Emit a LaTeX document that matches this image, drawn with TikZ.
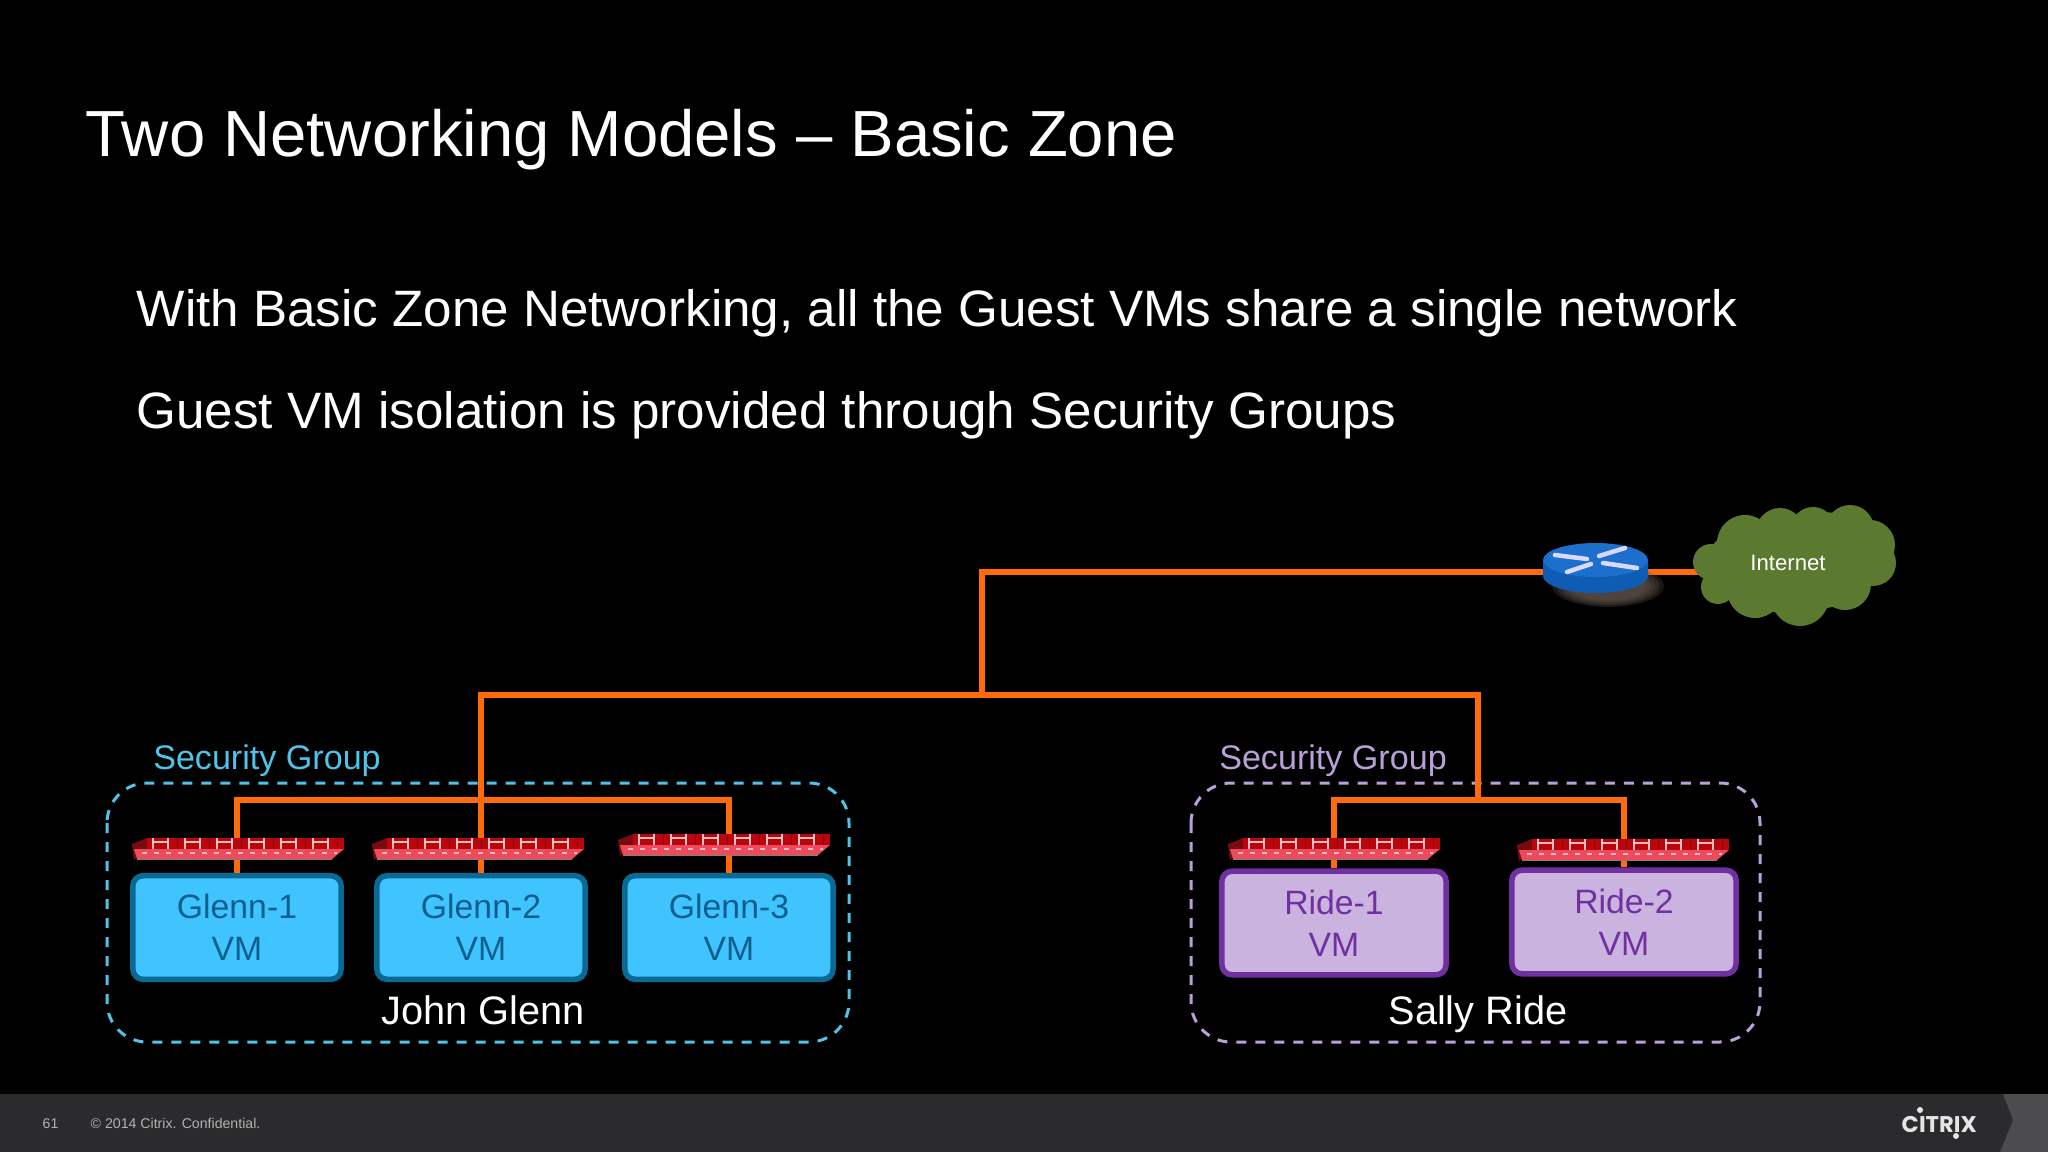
\documentclass[tikz,border=0pt]{standalone}
\usepackage{fontspec}
\setmainfont{Liberation Sans}
\newfontfamily\logofont{Poppins}
\definecolor{wirecol}{HTML}{FF6A0A}
\definecolor{glennfill}{HTML}{3FC4FF}
\definecolor{glennline}{HTML}{0B6A94}
\definecolor{glenntext}{HTML}{0F5F8C}
\definecolor{ridefill}{HTML}{CBB3E0}
\definecolor{rideline}{HTML}{7030A0}
\definecolor{glenndash}{HTML}{4FC3E8}
\definecolor{ridedash}{HTML}{B9A0D8}
\definecolor{cloudcol}{HTML}{5B7A30}
\definecolor{barcol}{HTML}{2B2B2D}
\definecolor{cornercol}{HTML}{4C4C4E}
\definecolor{fwtop}{HTML}{B8060C}
\definecolor{fwbrick}{HTML}{8E0408}
\definecolor{fwlow}{HTML}{EE4A5C}
\definecolor{fwside}{HTML}{7A0A0E}
\definecolor{fwmark}{HTML}{F0C0C0}
\definecolor{routertop}{HTML}{1C6FCC}
\definecolor{routerside}{HTML}{0F5CB4}
\definecolor{routershadow}{HTML}{6A5A52}
\tikzset{
  wire/.style={line width=0.6 mm, wirecol},
  glennvm/.style={draw=glennline, fill=glennfill, text=glenntext, line width=0.55 mm, rounded corners=1 mm,
    minimum width=2.08cm, minimum height=1.035cm, align=center, font=\fontsize{9.6}{11.9}\selectfont},
  ridevm/.style={draw=rideline, fill=ridefill, text=rideline, line width=0.55 mm, rounded corners=1 mm,
    minimum width=2.24cm, minimum height=1.035cm, align=center, font=\fontsize{9.6}{11.9}\selectfont},
  group/.style={dash pattern=on 1 mm off 0.9 mm, line width=0.3 mm, rounded corners=4 mm},
  firewall/.pic={
    \fill[fwside] (0,6)--(15,0)--(15,11)--(2,22)--cycle;
    \fill[fwtop] (15,0) rectangle (212,11);
    \fill[fwlow] (2,11)--(212,11)--(200,21)--(5,21)--cycle;
    \foreach \b in {21,53,85,117,149,181}{
      \draw[line width=0.1 mm, fwbrick] (\b+24,0)--(\b+24,11);
      \draw[line width=0.2 mm, fwmark] (\b,0)--(\b,11) (\b+15,0)--(\b+15,11) (\b,4)--(\b+15,4);
    }
    \draw[line width=0.15 mm, fwmark, dash pattern=on 0.5 mm off 0.7 mm] (10,15)--(205,15);
    \draw[line width=0.12 mm, gray] (5,21.5)--(200,21.5);
  }
}
\begin{document}
\begin{tikzpicture}[x=0.01cm,y=-0.01cm]
\useasboundingbox (0,0) rectangle (2048,1152);
%baggrund
\fill[black] (0,0) rectangle (2048,1152);
\fill[barcol] (0,1094) rectangle (2048,1152);
\fill[cornercol] (2003,1094)--(2013,1120)--(2000,1152)--(2048,1152)--(2048,1094)--cycle;
%tekst
\node (title) [anchor=base west,inner sep=0,white,font=\fontsize{18.55}{22}\selectfont] at(85,157) {Two Networking Models – Basic Zone};
\node (lineA) [anchor=base west,inner sep=0,white,font=\fontsize{14.55}{17}\selectfont] at(136,327) {With Basic Zone Networking, all the Guest VMs share a single network};
\node (lineB) [anchor=base west,inner sep=0,white,font=\fontsize{14.55}{17}\selectfont] at(136,429) {Guest VM isolation is provided through Security Groups};
%grupper
\draw[group,glenndash] (107,783) rectangle (849,1042);
\draw[group,ridedash] (1191,783) rectangle (1760,1042);
\node (secA) [glenndash,font=\fontsize{9.7}{11}\selectfont] at(267,761) {Security Group};
\node (secB) [ridedash,font=\fontsize{9.7}{11}\selectfont] at(1333,761) {Security Group};
\node (john) [anchor=base,inner sep=0,white,font=\fontsize{11.3}{13}\selectfont] at(483,1024.5) {John Glenn};
\node (sally) [anchor=base,inner sep=0,white,font=\fontsize{11.3}{13}\selectfont] at(1478,1024.5) {Sally Ride};
%vm
\node (glennA) [glennvm] at(237,927.5) {Glenn-1\\VM};
\node (glennB) [glennvm] at(481,927.5) {Glenn-2\\VM};
\node (glennC) [glennvm] at(729,927.5) {Glenn-3\\VM};
\node (rideA) [ridevm] at(1334,923) {Ride-1\\VM};
\node (rideB) [ridevm] at(1624,922) {Ride-2\\VM};
%ledninger
\coordinate (router) at (1595,572);
\coordinate (cloud) at (1788,572);
\coordinate (trunk) at (982,695);
\coordinate (busA) at (481,695);
\coordinate (busB) at (1478,695);
\coordinate (tapA) at (481,800);
\coordinate (tapB) at (1478,800);
\draw[wire] (router)--(cloud);
\draw[wire] (router)-|(trunk);
\draw[wire] (glennB.north)--(busA)--(busB)--(tapB);
\draw[wire] (glennA.north)|-(tapA)-|(glennC.north);
\draw[wire] (rideA.north)|-(tapB)-|(rideB.north);
%firewalls
\pic at (132,838) {firewall};
\pic at (372,838) {firewall};
\pic at (618,834) {firewall};
\pic at (1228,838) {firewall};
\pic at (1517,839) {firewall};
%router
\foreach \s in {1,0.92,0.84,0.76,0.68}{
  \fill[routershadow,opacity=0.25] (1608,586) ellipse[x radius=56*\s,y radius=21*\s];
}
\fill[routerside] (1543,560)--(1543,576) arc[start angle=180,end angle=0,x radius=52.5,y radius=17]--(1648,560)--cycle;
\fill[routertop] (1595.5,560) ellipse[x radius=52.5,y radius=17];
\foreach \a/\b/\c/\d in {1555/555/1587/559,1599/556/1625/548,1567/572/1591/564,1603/563/1637/568}{
  \draw[line width=0.45 mm,line cap=round,blue!15!white] (\a,\b)--(\c,\d);
}
%sky
\foreach \a/\b/\r in {1711/562/18,1718/587/17,1745/543/28,1780/532/24,1813/529/22,1850/529/24,1870/545/25,1873/563/23,1845/584/26,1800/597/29,1755/590/28}{
  \fill[cloudcol] (\a,\b) circle[radius=\r];
}
\fill[cloudcol] (1790,565) ellipse[x radius=85,y radius=48];
\fill[cloudcol] (1820,550) ellipse[x radius=62,y radius=38];
\node (internet) [white,font=\fontsize{6.3}{8}\selectfont] at(1788,563) {Internet};
%bund
\node (page) [anchor=base west,inner sep=0,gray!60!white,font=\fontsize{4}{5}\selectfont] at(42,1128) {61};
\node (copy) [anchor=base west,inner sep=0,gray!60!white,font=\fontsize{4.02}{5}\selectfont] at(90,1128) {© 2014 Citrix. Confidential.};
\node (logo) [anchor=base west,inner sep=0,gray!20!white,font=\fontsize{6.45}{8}\logofont\bfseries] at(1901,1132) {CITRIX};
\fill[gray!20!white] (1920,1110) circle[radius=3];
\fill[gray!20!white] (1956,1136) circle[radius=3];
\end{tikzpicture}
\end{document}
